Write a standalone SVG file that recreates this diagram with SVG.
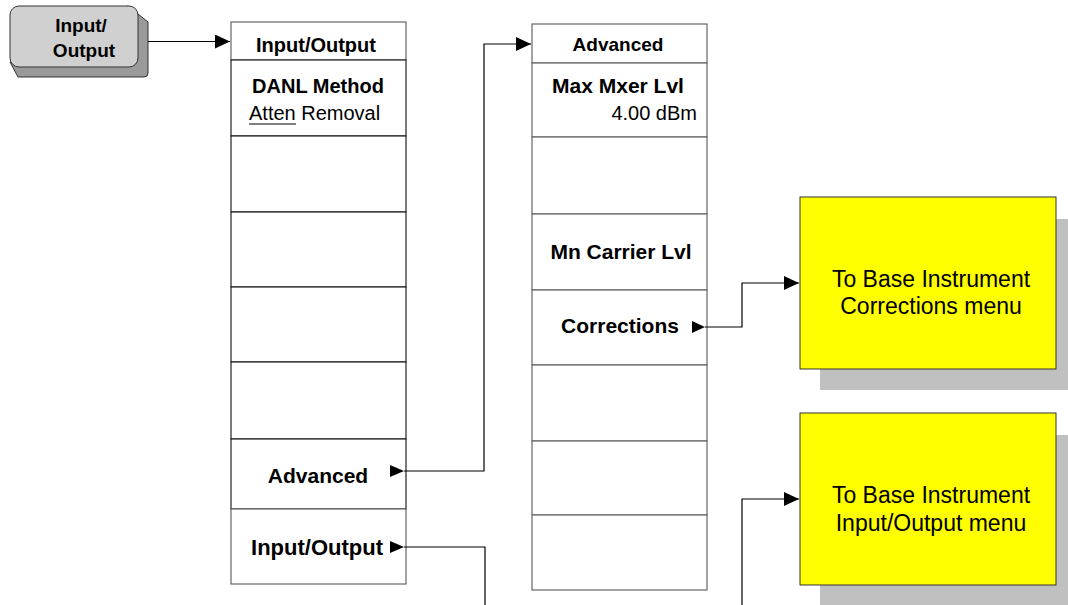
<svg xmlns="http://www.w3.org/2000/svg" width="1068" height="605" viewBox="0 0 1068 605">
<style>
.b{font-family:"Liberation Sans",Arial,sans-serif;font-weight:bold;fill:#000}
.r{font-family:"Liberation Sans",Arial,sans-serif;fill:#000}
.k1{fill:#fff;stroke:#222;stroke-width:1.2}
.k2{fill:#fff;stroke:#666;stroke-width:1.2}
.c{fill:none;stroke:#000;stroke-width:1.2}
.t{fill:#000}
.y{fill:#ffff00;stroke:#333;stroke-width:1}
.s{fill:#c0c0c0}
</style>
<defs>
<marker id="ah" markerUnits="userSpaceOnUse" markerWidth="16" markerHeight="14" refX="15" refY="7" orient="auto">
<path d="M0,0 L15,7 L0,14 z" fill="#000"/>
</marker>
</defs>
<rect width="1068" height="605" fill="#fff"/>

<g id="hardkey">
<path d="M128,6 L148,22 L148,73 Q148,77 144,77 L18,77 L10,62 Z" fill="#9a9a9a" stroke="#333" stroke-width="1"/>
<rect x="10" y="6" width="128" height="61" rx="9" fill="#d0d0d0" stroke="#333" stroke-width="1"/>
<text class="b" x="81" y="32" font-size="19" text-anchor="middle">Input/</text>
<text class="b" x="84" y="57" font-size="19" text-anchor="middle">Output</text>
</g>

<g id="menu-input-output">
<rect class="k2" x="231" y="22" width="175" height="38"/>
<text class="b" x="316" y="52" font-size="20" text-anchor="middle">Input/Output</text>
<rect class="k1" x="231" y="60" width="175" height="76"/>
<text class="b" x="318" y="93" font-size="20" text-anchor="middle">DANL Method</text>
<text class="r" x="249" y="120" font-size="20">Atten Removal</text>
<line x1="249" y1="124" x2="296" y2="124" stroke="#000" stroke-width="1.2"/>
<rect class="k1" x="231" y="136" width="175" height="76"/>
<rect class="k1" x="231" y="212" width="175" height="75"/>
<rect class="k1" x="231" y="287" width="175" height="75"/>
<rect class="k1" x="231" y="362" width="175" height="77"/>
<rect class="k1" x="231" y="439" width="175" height="70"/>
<text class="b" x="318" y="483" font-size="21" text-anchor="middle">Advanced</text>
<rect class="k2" x="231" y="509" width="175" height="75"/>
<text class="b" x="317" y="555" font-size="22" text-anchor="middle">Input/Output</text>
</g>

<g id="menu-advanced">
<rect class="k2" x="532" y="24" width="175" height="39"/>
<text class="b" x="618" y="51" font-size="19" text-anchor="middle">Advanced</text>
<rect class="k2" x="532" y="63" width="175" height="74"/>
<text class="b" x="618" y="93" font-size="21" text-anchor="middle">Max Mxer Lvl</text>
<text class="r" x="697" y="120" font-size="20" text-anchor="end">4.00 dBm</text>
<rect class="k2" x="532" y="137" width="175" height="77"/>
<rect class="k2" x="532" y="214" width="175" height="76"/>
<text class="b" x="621" y="259" font-size="21" text-anchor="middle">Mn Carrier Lvl</text>
<rect class="k2" x="532" y="290" width="175" height="75"/>
<text class="b" x="620" y="333" font-size="21" text-anchor="middle">Corrections</text>
<rect class="k2" x="532" y="365" width="175" height="76"/>
<rect class="k2" x="532" y="441" width="175" height="74"/>
<rect class="k2" x="532" y="515" width="175" height="75"/>
</g>

<g id="base-corrections">
<rect class="s" x="820" y="219" width="248" height="171"/>
<rect class="y" x="800" y="197" width="256" height="172"/>
<text class="r" x="931" y="287" font-size="23" text-anchor="middle">To Base Instrument</text>
<text class="r" x="931" y="314" font-size="23" text-anchor="middle">Corrections menu</text>
</g>

<g id="base-input-output">
<rect class="s" x="820" y="435" width="248" height="170"/>
<rect class="y" x="800" y="413" width="256" height="172"/>
<text class="r" x="931" y="503" font-size="23" text-anchor="middle">To Base Instrument</text>
<text class="r" x="931" y="531" font-size="23" text-anchor="middle">Input/Output menu</text>
</g>

<g id="connectors">
<polyline class="c" points="148,41.5 230,41.5" marker-end="url(#ah)"/>
<polygon class="t" points="390,465 404,471 390,477"/>
<polyline class="c" points="404,471 484,471 484,44 531,44" marker-end="url(#ah)"/>
<polygon class="t" points="390,541 404,547 390,553"/>
<polyline class="c" points="404,547 485,547 485,605"/>
<polygon class="t" points="692,321 705,327 692,333"/>
<polyline class="c" points="705,327 742,327 742,283 799,283" marker-end="url(#ah)"/>
<polyline class="c" points="742,605 742,499 799,499" marker-end="url(#ah)"/>
</g>
</svg>
